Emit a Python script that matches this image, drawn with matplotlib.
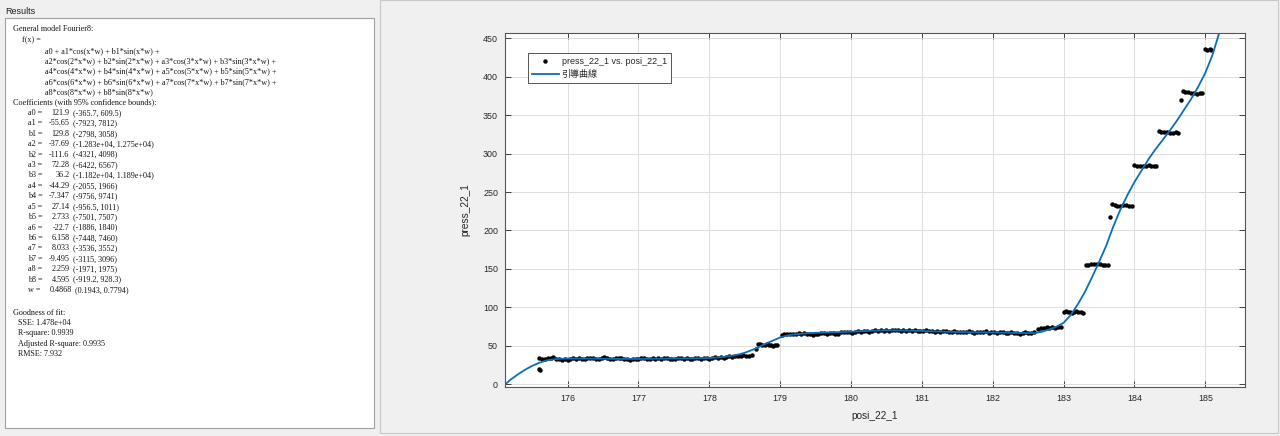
import matplotlib

matplotlib.use("Agg")
import matplotlib.pyplot as plt
from matplotlib.patches import Rectangle

W, H = 1280, 436
BG = "#f0f0f0"
_BLUE = "#0a6fb8"
_TXT = "#262626"

# --- fit results text (left panel) ---
model_lines = [
    "a0 + a1*cos(x*w) + b1*sin(x*w) +",
    "a2*cos(2*x*w) + b2*sin(2*x*w) + a3*cos(3*x*w) + b3*sin(3*x*w) +",
    "a4*cos(4*x*w) + b4*sin(4*x*w) + a5*cos(5*x*w) + b5*sin(5*x*w) +",
    "a6*cos(6*x*w) + b6*sin(6*x*w) + a7*cos(7*x*w) + b7*sin(7*x*w) +",
    "a8*cos(8*x*w) + b8*sin(8*x*w)",
]
coef_names = ["a0", "a1", "b1", "a2", "b2", "a3", "b3", "a4", "b4", "a5",
              "b5", "a6", "b6", "a7", "b7", "a8", "b8", "w"]
coef_vals = ["121.9", "-55.65", "129.8", "-37.69", "-111.6", "72.28", "36.2",
             "-44.29", "-7.347", "27.14", "2.733", "-22.7", "6.158", "8.033",
             "-9.495", "2.259", "4.595", "0.4868"]
coef_bounds = ["(-365.7, 609.5)", "(-7923, 7812)", "(-2798, 3058)",
               "(-1.283e+04, 1.275e+04)", "(-4321, 4098)", "(-6422, 6567)",
               "(-1.182e+04, 1.189e+04)", "(-2055, 1966)", "(-9756, 9741)",
               "(-956.5, 1011)", "(-7501, 7507)", "(-1886, 1840)",
               "(-7448, 7460)", "(-3536, 3552)", "(-3115, 3096)",
               "(-1971, 1975)", "(-919.2, 928.3)", "(0.1943, 0.7794)"]
gof_lines = ["SSE: 1.478e+04", "R-square: 0.9939",
             "Adjusted R-square: 0.9935", "RMSE: 7.932"]

# --- measured data: press_22_1 vs. posi_22_1 ---
posi = [
    175.60, 175.60, 175.61, 175.64, 175.68, 175.72, 175.76, 175.80, 175.84, 175.88,
    175.92, 175.96, 176.00, 176.04, 176.08, 176.12, 176.16, 176.20, 176.24, 176.28,
    176.32, 176.36, 176.40, 176.44, 176.48, 176.52, 176.56, 176.60, 176.64, 176.68,
    176.72, 176.76, 176.80, 176.84, 176.88, 176.92, 176.96, 177.00, 177.04, 177.08,
    177.12, 177.16, 177.20, 177.24, 177.28, 177.32, 177.36, 177.40, 177.44, 177.48,
    177.52, 177.56, 177.60, 177.64, 177.68, 177.72, 177.76, 177.80, 177.84, 177.88,
    177.92, 177.96, 178.00, 178.04, 178.08, 178.12, 178.16, 178.20, 178.24, 178.28,
    178.32, 178.36, 178.40, 178.44, 178.48, 178.52, 178.56, 178.60,
    178.66, 178.69, 178.72, 178.75, 178.78, 178.81, 178.84, 178.87, 178.90, 178.93, 178.96,
    179.02, 179.06, 179.10, 179.14, 179.18, 179.22, 179.26, 179.30, 179.34, 179.38,
    179.42, 179.46, 179.50, 179.54, 179.58, 179.62, 179.66, 179.70, 179.74, 179.78,
    179.82, 179.86, 179.90, 179.94, 179.98, 180.02, 180.06, 180.10, 180.14, 180.18,
    180.22, 180.26, 180.30, 180.34, 180.38, 180.42, 180.46, 180.50, 180.54, 180.58,
    180.62, 180.66, 180.70, 180.74, 180.78, 180.82, 180.86, 180.90, 180.94, 180.98,
    181.02, 181.06, 181.10, 181.14, 181.18, 181.22, 181.26, 181.30, 181.34, 181.38,
    181.42, 181.46, 181.50, 181.54, 181.58, 181.62, 181.66, 181.70, 181.74, 181.78,
    181.82, 181.86, 181.90, 181.94, 181.98, 182.02, 182.06, 182.10, 182.14, 182.18,
    182.22, 182.26, 182.30, 182.34, 182.38, 182.42, 182.46, 182.50, 182.54, 182.58,
    182.64, 182.68, 182.72, 182.76, 182.80, 182.84, 182.88, 182.92, 182.96,
    183.00, 183.03, 183.06, 183.09, 183.12, 183.15, 183.18, 183.21, 183.24, 183.27,
    183.31, 183.35, 183.39, 183.43, 183.47, 183.51, 183.55, 183.59, 183.62,
    183.65, 183.68, 183.72, 183.76, 183.80, 183.84, 183.88, 183.92, 183.96,
    184.00, 184.04, 184.08, 184.12, 184.16, 184.20, 184.24, 184.28, 184.31,
    184.34, 184.38, 184.42, 184.46, 184.50, 184.54, 184.58, 184.62,
    184.65, 184.68, 184.72, 184.76, 184.80, 184.84, 184.88, 184.92, 184.96,
    185.00, 185.03, 185.06, 185.08,
]
press = [
    34.5, 20.5, 18.0, 33.5, 33.0, 33.8, 34.5, 35.2, 33.0, 32.5,
    32.0, 32.8, 32.2, 33.5, 34.0, 33.2, 33.8, 33.0, 33.5, 34.8,
    33.6, 34.2, 33.5, 33.0, 34.5, 35.0, 34.0, 33.2, 32.8, 33.6,
    34.4, 33.8, 33.0, 32.5, 32.0, 33.0, 32.5, 33.5, 34.2, 34.8,
    33.5, 33.0, 34.0, 33.4, 34.2, 33.0, 33.8, 34.5, 33.2, 32.6,
    33.4, 34.8, 34.0, 33.2, 34.5, 33.5, 33.0, 34.4, 33.8, 32.8,
    34.0, 34.6, 33.5, 34.8, 35.5, 34.5, 35.0, 34.2, 35.8, 36.2,
    35.5, 36.8, 37.2, 36.5, 37.5, 37.0, 36.8, 38.0,
    46.5, 53.0, 52.5, 51.0, 51.5, 52.0, 50.5, 51.0, 50.0, 51.0, 50.5,
    64.5, 65.5, 65.0, 64.8, 66.0, 65.5, 66.2, 65.0, 66.8, 66.0,
    65.5, 64.5, 65.2, 66.0, 67.0, 66.5, 65.8, 66.5, 67.2, 65.0,
    66.0, 67.5, 68.2, 67.8, 68.5, 67.2, 68.0, 69.0, 68.5, 68.8,
    69.2, 68.5, 69.5, 70.0, 69.3, 70.2, 69.8, 70.5, 69.8, 70.2,
    70.8, 70.0, 69.5, 70.2, 69.8, 70.5, 69.2, 70.0, 69.6, 69.8,
    69.2, 70.0, 68.8, 69.5, 68.5, 69.2, 68.2, 68.8, 69.5, 68.0,
    68.5, 69.0, 67.8, 68.4, 67.5, 68.2, 69.0, 68.0, 67.2, 68.5,
    68.0, 67.5, 68.8, 67.2, 67.8, 68.2, 67.0, 67.6, 68.4, 67.2,
    66.8, 67.5, 66.5, 67.2, 66.0, 66.8, 67.5, 66.2, 67.0, 67.8,
    72.5, 73.5, 73.0, 74.2, 73.8, 74.5, 73.6, 74.8, 74.0,
    94.0, 95.0, 93.5, 94.5, 93.0, 94.2, 95.0, 93.8, 94.5, 93.0,
    154.5, 155.5, 156.0, 156.5, 155.8, 156.2, 155.5, 155.0, 155.2,
    217.0, 234.0, 233.5, 232.0, 232.5, 233.0, 233.5, 232.5, 232.0,
    285.0, 284.5, 283.5, 283.8, 284.5, 285.0, 284.0, 284.5, 284.0,
    329.0, 328.5, 327.5, 328.0, 327.0, 326.5, 327.5, 327.0,
    370.0, 381.0, 380.0, 379.5, 378.5, 379.0, 378.0, 379.0, 378.5,
    436.0, 435.0, 435.5, 435.0,
]

# --- fitted curve ---
fit_x = [175.12, 175.2, 175.3, 175.4, 175.5, 175.6, 175.7, 175.8, 175.9, 176.0,
         176.25, 176.5, 176.75, 177.0, 177.25, 177.5, 177.75, 178.0, 178.2, 178.3,
         178.4, 178.5, 178.6, 178.7, 178.8, 178.9, 179.0, 179.1, 179.2, 179.4,
         179.6, 179.8, 180.0, 180.25, 180.5, 180.75, 181.0, 181.25, 181.5, 181.75,
         182.0, 182.25, 182.5, 182.6, 182.7, 182.8, 182.9, 183.0, 183.1, 183.2,
         183.3, 183.4, 183.5, 183.6, 183.7, 183.8, 183.9, 184.0, 184.1, 184.2,
         184.3, 184.4, 184.5, 184.6, 184.7, 184.8, 184.9, 185.0, 185.1, 185.2]
fit_y = [0.0, 6.5, 13.0, 19.0, 24.0, 28.0, 31.0, 32.5, 33.2, 33.5,
         33.5, 33.3, 33.0, 33.0, 33.3, 33.6, 33.8, 34.2, 35.5, 37.0,
         38.5, 41.0, 44.5, 48.5, 53.0, 57.0, 61.0, 63.5, 65.0, 66.5,
         67.3, 67.8, 68.4, 69.5, 70.3, 70.0, 69.4, 68.6, 68.0, 67.7,
         67.6, 67.0, 66.5, 66.8, 68.5, 71.5, 75.0, 80.0, 90.0, 104.0,
         120.0, 139.0, 159.0, 180.0, 205.0, 227.0, 246.0, 263.0, 278.0, 293.0,
         306.0, 318.0, 330.0, 343.0, 357.0, 371.0, 387.0, 405.0, 428.0, 458.0]

xticks = [176, 177, 178, 179, 180, 181, 182, 183, 184, 185]
yticks = [0, 50, 100, 150, 200, 250, 300, 350, 400, 450]


def fx(px):
    return px / W


def fy(py):
    return 1 - py / H


fig = plt.figure(figsize=(W / 100, H / 100), dpi=100, facecolor=BG)

# panel frames (kept behind the axes)
fig.patches.append(Rectangle((fx(5), fy(428)), fx(369), 410 / H, transform=fig.transFigure,
                             facecolor="white", edgecolor="#a0a0a0", lw=0.8, zorder=-5))
fig.patches.append(Rectangle((fx(380), fy(433)), fx(898), 433 / H, transform=fig.transFigure,
                             facecolor=BG, edgecolor="#c8c8c8", lw=0.8, zorder=-5))
fig.text(fx(5), fy(11), "Results", fontsize=6.5, family="Liberation Sans",
         va="center", color="#202020")

# results text
serif = dict(family="Liberation Serif", fontsize=5.9, va="center", color="#151515")
fig.text(fx(13), fy(29.3), "General model Fourier8:", **serif)
fig.text(fx(22), fy(40), "f(x) =", **serif)
for i, s in enumerate(model_lines):
    fig.text(fx(45), fy(50.7 + 10.35 * i), s, **serif)
fig.text(fx(13), fy(102.3), "Coefficients (with 95% confidence bounds):", **serif)
for i, (n, v, b) in enumerate(zip(coef_names, coef_vals, coef_bounds)):
    y = 113 + 10.41 * i
    fig.text(fx(28), fy(y), f"{n} =", **serif)
    fig.text(fx(69.5 if n != "w" else 71.5), fy(y), v, ha="right", **serif)
    fig.text(fx(73 if n != "w" else 75), fy(y), b, **serif)
fig.text(fx(13), fy(312.7), "Goodness of fit:", **serif)
for i, s in enumerate(gof_lines):
    fig.text(fx(18), fy(322.7 + 10.4 * i), s, **serif)

# plot
ax = fig.add_axes([fx(505), fy(387), fx(740), 354 / H])
ax.set_facecolor("white")
ax.plot(posi, press, "o", color="black", ms=3.2, mew=0,
        label="press_22_1 vs. posi_22_1")
ax.plot(fit_x, fit_y, color=_BLUE, lw=1.3, label="引導曲線")
ax.set_xlim(175.116, 185.56)
ax.set_ylim(-3.5, 456.8)
ax.set_xticks(xticks)
ax.set_yticks(yticks)
ax.grid(True, color="#dedede", lw=0.7)
ax.set_axisbelow(True)
ax.tick_params(direction="in", length=4, width=0.6, top=True, right=True,
               labelsize=6.4, colors=_TXT, pad=5)
for t in ax.get_xticklabels() + ax.get_yticklabels():
    t.set_family("Liberation Sans")
for sp in ax.spines.values():
    sp.set_color("#555555")
    sp.set_linewidth(0.8)
ax.set_xlabel("posi_22_1", fontsize=7.3, family="Liberation Sans", color=_TXT, labelpad=6)
ax.set_ylabel("press_22_1", fontsize=7.3, family="Liberation Sans", color=_TXT, labelpad=9)

leg = ax.legend(loc="upper left", bbox_to_anchor=(0.0307, 0.944), borderaxespad=0,
                fancybox=False, edgecolor="#555555", framealpha=1,
                prop={"family": ["Liberation Sans", "Noto Sans CJK TC"], "size": 6.5},
                handlelength=3.0, handletextpad=0.3, borderpad=0.45, labelspacing=0.45)
leg.get_frame().set_linewidth(0.7)
for t in leg.get_texts():
    t.set_color(_TXT)

fig.savefig("out.png", dpi=100, facecolor=BG)
